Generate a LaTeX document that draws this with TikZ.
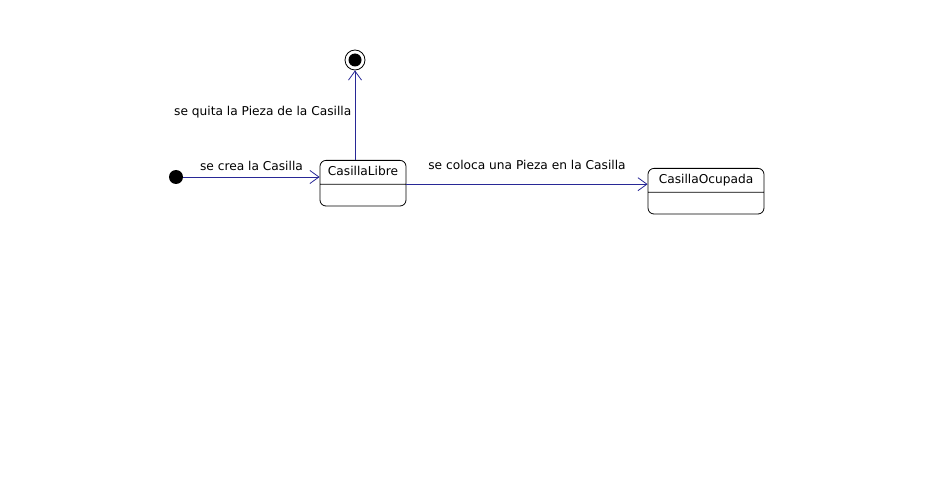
\documentclass[tikz,border=0pt]{standalone}
\usepackage{fontspec}
\setmainfont{DejaVu Sans}
\usetikzlibrary{positioning,shapes.multipart,arrows.meta}
\definecolor{linea}{RGB}{40,40,150}

\begin{document}
\begin{tikzpicture}[x=1pt,y=-1pt,font=\fontsize{12.2}{14}\selectfont,line width=0.8pt,
  estado/.style={draw,rectangle split,rectangle split parts=2,rounded corners=6pt,
    text height=9pt,text depth=2pt,inner ysep=6pt,rectangle split empty part height=9pt},
  trans/.style={draw=linea,-{Straight Barb[length=9pt,width=13pt]}}]
  \useasboundingbox (0,0) rectangle (932,500);
  % estados
  \node[circle,fill,inner sep=0pt,minimum size=14pt] (ini) at (176,177) {};
  \node[estado,minimum width=86pt,anchor=north] (libre) at (363,160) {CasillaLibre\nodepart{two}};
  \node[estado,minimum width=116pt,anchor=north] (ocupada) at (706,168) {CasillaOcupada\nodepart{two}};
  \node[circle,draw,fill=white,inner sep=0pt,minimum size=20pt] (fin) at (355,60) {};
  \node[circle,fill,inner sep=0pt,minimum size=13pt] (finc) at (fin) {};
  % transiciones
  \draw[trans] (ini.east) -- (ini -| libre.west) node[midway,above=3pt] {se crea la Casilla};
  \draw[trans] (libre.north -| fin) -- (fin.south) node[midway,left=0pt,yshift=3pt] {se quita la Pieza de la Casilla};
  \draw[trans] (libre.text split east) -- (libre.text split east -| ocupada.west)
    node[midway,above=11pt] {se coloca una Pieza en la Casilla};
\end{tikzpicture}
\end{document}
